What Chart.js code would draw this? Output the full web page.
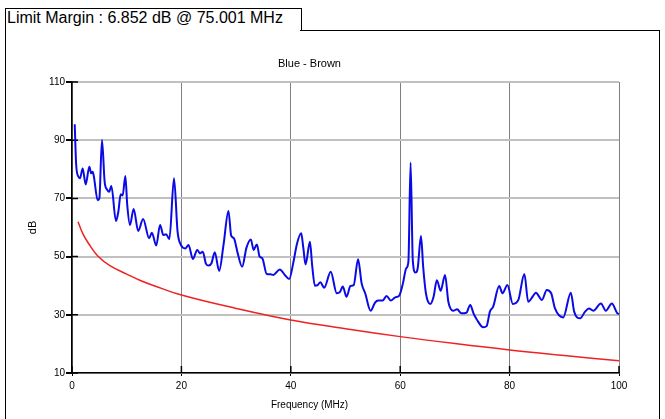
<!DOCTYPE html>
<html>
<head>
<meta charset="utf-8">
<script src="https://cdn.jsdelivr.net/npm/chart.js@4.4.1/dist/chart.umd.min.js"></script>
<style>
  body { margin: 0; background: #fff; font-family: "Liberation Sans", Arial, sans-serif; }
  #wrap { position: relative; width: 665px; height: 419px; overflow: hidden; }
  #myChart { position: absolute; left: 0; top: 0; }
  #header { position: absolute; left: 7px; top: 9px; font-size: 16px; line-height: 18px; color: #000; white-space: nowrap; }
  #tab { position: absolute; left: 5px; top: 8px; width: 295px; height: 22px; border-left: 1px solid #000; border-top: 1px solid #000; border-right: 1px solid #000; }
  #panel { position: absolute; left: 5px; top: 30px; width: 653px; height: 400px; border-left: 1px solid #000; border-right: 1px solid #000; }
  #panelTop { position: absolute; left: 300px; top: 30px; width: 359px; height: 0; border-top: 1px solid #000; }
</style>
</head>
<body>
<div id="wrap">
  <div id="tab"></div>
  <div id="panel"></div>
  <div id="panelTop"></div>
  <div id="header">Limit Margin : 6.852 dB @ 75.001 MHz</div>
  <canvas id="myChart" width="665" height="419"></canvas>
</div>
<script>
// measured trace (Blue - Brown)
var freqs = [0.5, 0.75, 1.16, 1.46, 1.95, 2.5, 3.17, 3.5, 3.78, 4.0, 4.69, 5.0, 5.48, 5.97, 6.46, 6.8, 7.19, 8.04, 8.47, 8.9,
  9.26, 9.75, 10.1, 10.6, 11.27, 12.1, 13.0, 14.1, 14.6, 15.4, 16.1, 16.7, 17.2, 17.8, 18.65, 19.3, 19.9, 20.7, 21.3, 22.1,
  22.9, 23.4, 23.9, 24.5, 25.0, 25.5, 26.1, 26.9, 27.7, 28.6, 29.1, 29.6, 30.3, 31.1, 31.9, 32.7, 33.2, 33.8, 34.3, 34.8,
  35.6, 36.3, 36.8, 38.0, 38.9, 39.7, 40.5, 41.1, 41.9, 42.3, 42.7, 43.5, 43.9, 44.4, 44.9, 45.4, 46.1, 47.3, 48.4, 49.0,
  49.5, 50.2, 50.9, 51.5, 52.3, 52.95, 53.6, 54.6, 55.4, 56.0, 56.8, 57.5, 58.3, 59.1, 59.8, 60.5, 61.1, 61.5, 61.9, 62.3,
  62.8, 63.2, 63.8, 64.2, 64.7, 65.5, 66.1, 66.7, 67.4, 68.2, 68.8, 69.7, 70.4, 71.2, 72.1, 72.8, 73.4, 74.0, 75.2, 75.8,
  76.4, 77.0, 78.1, 78.7, 79.6, 80.6, 81.6, 82.7, 83.4, 84.2, 84.8, 85.9, 86.8, 87.6, 88.3, 89.8, 91.2, 91.8, 92.9, 93.8,
  94.5, 95.3, 96.7, 97.6, 98.7, 99.7, 100];
var levels = [95.5, 82, 77.5, 76.9, 80.3, 74.8, 80.9, 78.6, 79.2, 77.5, 69.4, 70, 90.1, 75.7, 72.9, 72.3, 74.3, 62.2, 65.4, 71.4,
  71.0, 77.7, 67.7, 60.9, 66.4, 58.8, 62.9, 56.3, 58.2, 53.8, 60.9, 57.4, 57.7, 56.0, 76.9, 58.6, 54.0, 52.8, 54.0, 49.2,
  52.3, 51.1, 51.7, 47.5, 46.9, 47.7, 51.5, 45.1, 54.0, 65.7, 57.2, 56.3, 51.1, 46.5, 53.1, 55.9, 52.3, 54.2, 50.0, 49.4,
  44.0, 43.9, 43.7, 45.6, 43.7, 42.3, 48.3, 54.2, 58.0, 52.8, 47.3, 55.1, 47.1, 40.0, 40.2, 41.2, 39.3, 44.8, 37.4, 37.9,
  39.7, 36.2, 39.9, 40.2, 49.1, 40.8, 37.4, 31.4, 34.2, 34.9, 34.9, 36.5, 34.9, 36.0, 36.5, 40.8, 46.0, 48.3, 82.3, 48.8,
  44.5, 46.0, 57.1, 46.5, 37.4, 33.7, 36.2, 41.9, 38.3, 43.7, 34.5, 31.4, 31.9, 30.5, 30.7, 33.4, 30.5, 28.4, 25.7, 26.1,
  31.1, 32.8, 39.9, 37.4, 40.2, 33.7, 35.1, 44.0, 34.5, 36.2, 37.6, 35.1, 38.5, 37.4, 32.2, 29.1, 37.6, 31.1, 28.8, 31.1,
  32.2, 31.4, 33.9, 31.4, 33.9, 30.5, 30.3];

// limit line
var limitFreqs = [1.1, 2, 3, 4.8, 7, 10, 12.5, 15, 20, 30, 40, 50, 60, 70, 80, 90, 100];
var limitLevels = [62.0, 57.8, 54.6, 50.0, 46.8, 44.0, 41.8, 40.0, 36.8, 32.2, 28.2, 25.2, 22.5, 20.1, 17.9, 16.0, 14.2];

var xTicks = [0, 20, 40, 60, 80, 100];
var yTicks = [10, 30, 50, 70, 90, 110];

function toPoints(xs, ys) {
  var pts = [];
  for (var i = 0; i < xs.length; i++) {
    pts.push({ x: xs[i], y: ys[i] });
  }
  return pts;
}

// short black tick marks running into the plot from the axes
var innerTicks = {
  id: 'innerTicks',
  beforeDatasetsDraw: function (chart) {
    var c = chart.ctx, a = chart.chartArea;
    var xs = chart.scales.x, ys = chart.scales.y;
    c.save();
    c.strokeStyle = '#000';
    c.lineWidth = 1.5;
    c.beginPath();
    yTicks.forEach(function (v) {
      var py = ys.getPixelForValue(v);
      c.moveTo(a.left, py);
      c.lineTo(a.left + 6, py);
    });
    xTicks.forEach(function (v) {
      var px = xs.getPixelForValue(v);
      c.moveTo(px, a.bottom);
      c.lineTo(px, a.bottom - 7);
    });
    c.stroke();
    c.restore();
  }
};

Chart.defaults.font.family = '"Liberation Sans", Arial, sans-serif';
Chart.defaults.color = '#000';

var ctx = document.getElementById("myChart");
var myChart = new Chart(ctx, {
  type: 'line',
  data: {
    datasets: [{
      label: "Blue - Brown",
      data: toPoints(freqs, levels),
      borderColor: "#0a0ae6",
      borderWidth: 2,
      pointRadius: 0,
      cubicInterpolationMode: 'monotone',
      fill: false
    },
    {
      label: "Limit",
      data: toPoints(limitFreqs, limitLevels),
      borderColor: "#ee2222",
      borderWidth: 1.5,
      pointRadius: 0,
      tension: 0.4,
      fill: false
    }]
  },
  options: {
    responsive: false,
    animation: false,
    layout: { padding: { left: 0, right: 46, top: 56.9, bottom: 0 } },
    plugins: {
      legend: { display: false },
      tooltip: { enabled: false },
      title: {
        display: true,
        text: "Blue - Brown",
        font: { size: 11, weight: 'normal' },
        padding: { top: 0, bottom: 11.9 }
      },
      subtitle: {
        display: true,
        position: 'bottom',
        text: "Frequency (MHz)",
        font: { size: 10, weight: 'normal' },
        padding: { top: 2, bottom: 8 }
      }
    },
    scales: {
      x: {
        type: 'linear',
        min: 0,
        max: 100,
        afterBuildTicks: function (scale) {
          scale.ticks = xTicks.map(function (v) { return { value: v }; });
        },
        afterFit: function (scale) { scale.height = 24; },
        ticks: { font: { size: 10 }, padding: 4, maxRotation: 0 },
        grid: { color: '#808080', lineWidth: 1, tickColor: '#000', tickLength: 3 },
        border: { color: '#000', width: 1.5 }
      },
      y: {
        min: 10,
        max: 110,
        afterBuildTicks: function (scale) {
          scale.ticks = yTicks.map(function (v) { return { value: v }; });
        },
        afterFit: function (scale) { scale.width = 72; },
        title: {
          display: true,
          text: "dB",
          font: { size: 11 },
          padding: { top: 26.4, bottom: 0 }
        },
        ticks: { font: { size: 10 }, padding: 1 },
        grid: { color: '#c0c0c0', lineWidth: 2, tickColor: '#000', tickLength: 6 },
        border: { color: '#000', width: 1.5 }
      }
    }
  },
  plugins: [innerTicks]
});
</script>
</body>
</html>
